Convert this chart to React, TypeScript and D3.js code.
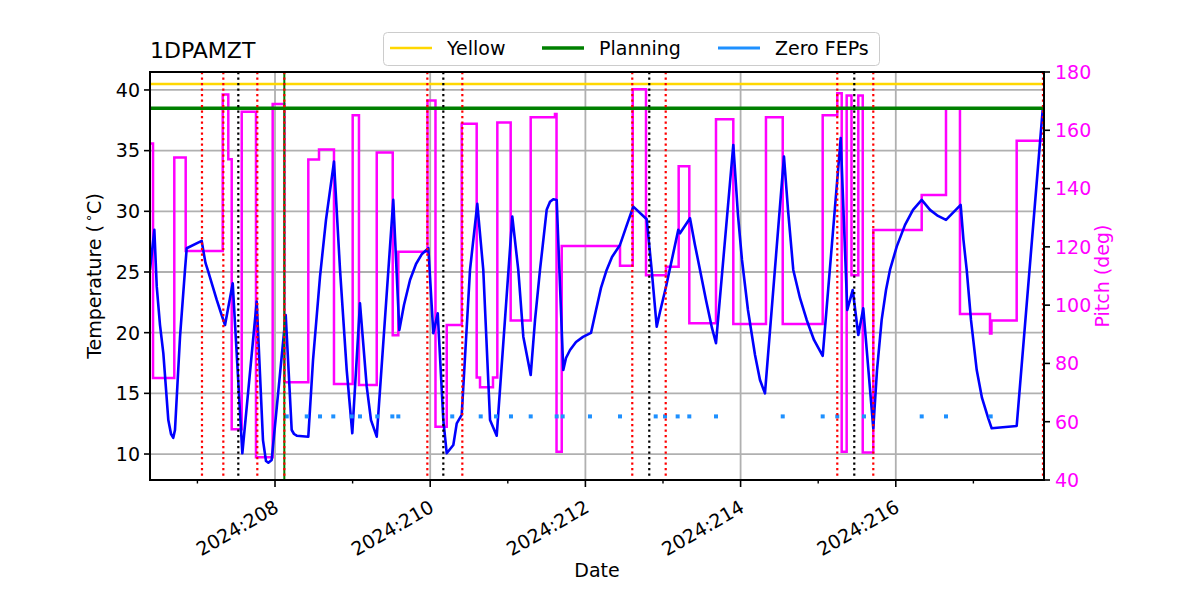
import React from 'react';
import * as d3 from 'd3';

// ---------- data (day-of-year 2024) ----------
const tempDays = [
  206.389, 206.445, 206.476, 206.518, 206.561, 206.625, 206.660, 206.689, 206.711, 206.776,
  206.840, 206.862, 207.055, 207.079, 207.104, 207.137, 207.188, 207.249, 207.304, 207.356,
  207.455, 207.579, 207.764, 207.845, 207.884, 207.914, 207.957, 208.138, 208.215, 208.245,
  208.280, 208.429, 208.490, 208.580, 208.657, 208.760, 208.838, 208.924, 208.996, 209.095,
  209.182, 209.237, 209.311, 209.524, 209.602, 209.662, 209.740, 209.817, 209.894, 209.976,
  210.040, 210.097, 210.169, 210.213, 210.298, 210.342, 210.406, 210.513, 210.607, 210.684,
  210.771, 210.857, 211.058, 211.135, 211.200, 211.295, 211.351, 211.415, 211.501, 211.544,
  211.586, 211.630, 211.715, 211.750, 211.802, 211.879, 211.969, 212.072, 212.137, 212.201,
  212.274, 212.343, 212.446, 212.530, 212.617, 212.790, 212.854, 212.919, 212.961, 213.039,
  213.197, 213.219, 213.348, 213.412, 213.477, 213.554, 213.631, 213.683, 213.906, 213.966,
  214.018, 214.095, 214.186, 214.250, 214.314, 214.559, 214.611, 214.679, 214.765, 214.852,
  214.946, 215.058, 215.290, 215.375, 215.445, 215.517, 215.581, 215.710, 215.758, 215.818,
  215.874, 215.925, 216.012, 216.119, 216.222, 216.334, 216.441, 216.544, 216.647, 216.836,
  216.872, 216.914, 216.969, 217.043, 217.111, 217.192, 217.236, 217.558, 217.893,
];
const tempVals = [
  25.17, 28.47, 23.79, 20.63, 18.30, 12.80, 11.65, 11.34, 11.98, 19.67,
  25.17, 26.96, 27.56, 26.65, 25.75, 25.09, 24.01, 22.70, 21.62, 20.63,
  24.07, 10.06, 22.56, 11.15, 9.42, 9.28, 9.51, 21.46, 11.98, 11.65,
  11.51, 11.43, 17.75, 24.62, 29.29, 34.10, 25.17, 16.92, 11.71, 22.42,
  15.55, 12.80, 11.43, 30.94, 20.22, 22.28, 24.34, 25.66, 26.49, 26.96,
  19.95, 21.60, 12.80, 10.06, 10.74, 12.53, 13.22, 25.17, 30.61, 25.17,
  12.80, 11.51, 29.56, 25.17, 19.67, 16.51, 21.05, 25.17, 30.12, 30.78,
  31.00, 30.94, 16.92, 17.91, 18.57, 19.23, 19.65, 19.98, 21.87, 23.69,
  25.17, 26.24, 27.23, 28.80, 30.39, 29.35, 25.17, 20.49, 21.71, 23.79,
  28.47, 28.19, 29.43, 27.23, 25.17, 22.70, 20.39, 19.13, 35.47, 29.70,
  25.99, 21.87, 18.16, 16.10, 15.00, 34.51, 30.12, 25.17, 22.86, 21.05,
  19.40, 18.08, 36.03, 21.87, 23.52, 19.81, 22.01, 12.12, 16.92, 21.05,
  23.52, 25.17, 27.09, 28.88, 30.12, 30.94, 30.12, 29.62, 29.29, 30.53,
  27.64, 25.17, 21.05, 16.92, 14.62, 12.94, 12.12, 12.31, 38.36,
];

const pitchDays = [
  206.389, 206.428, 206.702, 206.849, 207.326, 207.398, 207.442, 207.571, 207.755, 207.970,
  208.122, 208.429, 208.567, 208.760, 209.001, 209.082, 209.311, 209.517, 209.589, 209.965,
  210.068, 210.213, 210.406, 210.599, 210.642, 210.809, 210.865, 211.037, 211.295, 211.608,
  211.628, 211.695, 212.446, 212.610, 212.781, 213.039, 213.202, 213.339, 213.683, 213.906,
  214.327, 214.543, 215.058, 215.246, 215.303, 215.367, 215.429, 215.517, 215.574, 215.710,
  216.334, 216.647, 216.827, 217.214, 217.233, 217.558, 217.910,
];
const pitchVals = [
  155.5, 75.0, 150.7, 118.6, 172.3, 150.1, 57.4, 166.4, 47.8, 169.0,
  73.5, 150.0, 153.4, 72.9, 165.2, 72.6, 152.4, 89.7, 118.3, 170.2,
  58.3, 93.2, 162.2, 75.2, 71.8, 75.2, 162.7, 94.7, 164.5, 165.6,
  49.7, 120.3, 113.5, 174.1, 110.3, 113.2, 147.7, 93.8, 163.8, 93.5,
  164.5, 93.5, 165.2, 172.7, 49.7, 171.9, 110.3, 171.9, 49.4, 125.8,
  137.8, 167.5, 97.0, 90.3, 94.7, 156.4, 156.9,
];

const fepDays = [
  208.151, 208.409, 208.580, 208.751, 208.988, 209.095, 209.318, 209.512, 209.589, 210.284,
  210.651, 210.848, 211.041, 211.295, 211.630, 211.707, 212.059, 212.446, 212.906, 213.026,
  213.189, 213.339, 213.683, 214.543, 215.058, 215.246, 215.590, 216.334, 216.647, 217.223,
];
const fepLevel = 13.1;

const yellowLimit = 40.5;
const planningLimit = 38.5;

const redLineDays = [207.059, 207.334, 207.772, 208.120, 209.963, 210.414, 212.604, 213.035, 215.246, 215.710, 217.897];
const blackLineDays = [207.527, 210.169, 212.823, 215.465];
const greenLineDays = [208.120];

const majorDayTicks = [208, 210, 212, 214, 216];
const minorDayTicks = [207, 209, 211, 213, 215, 217];
const tempTicks = [10, 15, 20, 25, 30, 35, 40];
const pitchTicks = [40, 60, 80, 100, 120, 140, 160, 180];

const xDomain: [number, number] = [206.389, 217.91];
const tempDomain: [number, number] = [7.86, 41.48];
const pitchDomain: [number, number] = [40, 180];

const legendItems = [
  { label: 'Yellow', color: '#FFD700', width: 2.5 },
  { label: 'Planning', color: '#008000', width: 3.5 },
  { label: 'Zero FEPs', color: '#1E90FF', width: 3 },
];
const legendOffsets = [0, 152, 328];

// ---------- layout ----------
const W = 1200, H = 600;
const L = 150, R = 1044, T = 72, B = 480;
const FONT = 'DejaVu Sans, sans-serif';
const FS = 19;

export default function App() {
  const x = d3.scaleLinear().domain(xDomain).range([L, R]);
  const yT = d3.scaleLinear().domain(tempDomain).range([B, T]);
  const yP = d3.scaleLinear().domain(pitchDomain).range([B, T]);

  const tempLine = d3.line<number>()
    .x((_, i) => x(tempDays[i]))
    .y((v) => yT(v))
    .curve(d3.curveLinear)(tempVals) || '';

  const pitchLine = d3.line<number>()
    .x((_, i) => x(pitchDays[i]))
    .y((v) => yP(v))
    .curve(d3.curveStepAfter)(pitchVals) || '';

  const grid = '#b0b0b0';

  return (
    <svg width={W} height={H} style={{ position: 'absolute', left: 0, top: 0, background: '#fff' }} fontFamily={FONT}>
      <rect x={0} y={0} width={W} height={H} fill="#fff" />
      <defs>
        <clipPath id="plot">
          <rect x={L} y={T} width={R - L} height={B - T} />
        </clipPath>
      </defs>

      {/* grid */}
      {tempTicks.map((t) => (
        <line key={'gy' + t} x1={L} x2={R} y1={yT(t)} y2={yT(t)} stroke={grid} strokeWidth={1.8} />
      ))}
      {majorDayTicks.map((d) => (
        <line key={'gx' + d} x1={x(d)} x2={x(d)} y1={T} y2={B} stroke={grid} strokeWidth={1.8} />
      ))}

      <g clipPath="url(#plot)">
        {/* pitch */}
        <path d={pitchLine} fill="none" stroke="#FF00FF" strokeWidth={2.5} strokeLinejoin="miter" />
        {/* temperature */}
        <path d={tempLine} fill="none" stroke="#0000FF" strokeWidth={2.6} strokeLinejoin="round" />
        {/* limits */}
        <line x1={L} x2={R} y1={yT(yellowLimit)} y2={yT(yellowLimit)} stroke="#FFD700" strokeWidth={2.5} />
        <line x1={L} x2={R} y1={yT(planningLimit)} y2={yT(planningLimit)} stroke="#008000" strokeWidth={3.5} />
        {/* zero FEPs */}
        {fepDays.map((d, i) => (
          <rect key={'f' + i} x={x(d) - 2} y={yT(fepLevel) - 2} width={4} height={4} fill="#1E90FF" />
        ))}
        {/* event lines */}
        {greenLineDays.map((d, i) => (
          <line key={'g' + i} x1={x(d)} x2={x(d)} y1={T} y2={B} stroke="#008000" strokeWidth={2} />
        ))}
        {redLineDays.map((d, i) => (
          <line key={'r' + i} x1={x(d)} x2={x(d)} y1={T} y2={B} stroke="#FF0000" strokeWidth={2.2} strokeDasharray="2.2 3.3" />
        ))}
        {blackLineDays.map((d, i) => (
          <line key={'k' + i} x1={x(d)} x2={x(d)} y1={T} y2={B} stroke="#000" strokeWidth={2.2} strokeDasharray="2.2 3.3" />
        ))}
      </g>

      {/* frame */}
      <rect x={L} y={T} width={R - L} height={B - T} fill="none" stroke="#000" strokeWidth={2} />

      {/* left axis */}
      {tempTicks.map((t) => (
        <g key={'lt' + t}>
          <line x1={L - 6} x2={L} y1={yT(t)} y2={yT(t)} stroke="#000" strokeWidth={1.6} />
          <text x={L - 10} y={yT(t)} dy="0.36em" textAnchor="end" fontSize={FS} fill="#000">{t}</text>
        </g>
      ))}
      {/* right axis */}
      {pitchTicks.map((t) => (
        <g key={'rt' + t}>
          <line x1={R} x2={R + 6} y1={yP(t)} y2={yP(t)} stroke="#000" strokeWidth={1.6} />
          <text x={R + 11} y={yP(t)} dy="0.36em" textAnchor="start" fontSize={FS} fill="#FF00FF">{t}</text>
        </g>
      ))}
      {/* bottom axis */}
      {minorDayTicks.map((d) => (
        <line key={'mt' + d} x1={x(d)} x2={x(d)} y1={B} y2={B + 3.5} stroke="#000" strokeWidth={1.4} />
      ))}
      {majorDayTicks.map((d) => (
        <g key={'bt' + d}>
          <line x1={x(d)} x2={x(d)} y1={B} y2={B + 7} stroke="#000" strokeWidth={1.6} />
          <text
            transform={`translate(${x(d) + 5},${511}) rotate(-30)`}
            textAnchor="end"
            fontSize={FS}
            fill="#000"
          >{`2024:${d}`}</text>
        </g>
      ))}

      {/* labels */}
      <text x={(L + R) / 2} y={577} textAnchor="middle" fontSize={FS} fill="#000">Date</text>
      <text transform={`translate(101,${(T + B) / 2}) rotate(-90)`} textAnchor="middle" fontSize={FS} fill="#000">
        Temperature (<tspan dx={3} dy={-8} fontSize={13}>∘</tspan><tspan dy={8}>C)</tspan>
      </text>
      <text transform={`translate(1109,${(T + B) / 2}) rotate(-90)`} textAnchor="middle" fontSize={FS} fill="#FF00FF">
        Pitch (deg)
      </text>
      <text x={L} y={58} fontSize={22} fill="#000">1DPAMZT</text>

      {/* legend */}
      <rect x={383.5} y={32.5} width={496} height={33} rx={4} fill="#fff" fillOpacity={0.8} stroke="#cccccc" strokeWidth={1} />
      {legendItems.map((it, i) => (
        <g key={it.label} transform={`translate(${legendOffsets[i]},0)`}>
          <line x1={390} x2={432} y1={48} y2={48} stroke={it.color} strokeWidth={it.width} />
          <text x={447} y={55} fontSize={FS} fill="#000">{it.label}</text>
        </g>
      ))}
    </svg>
  );
}
